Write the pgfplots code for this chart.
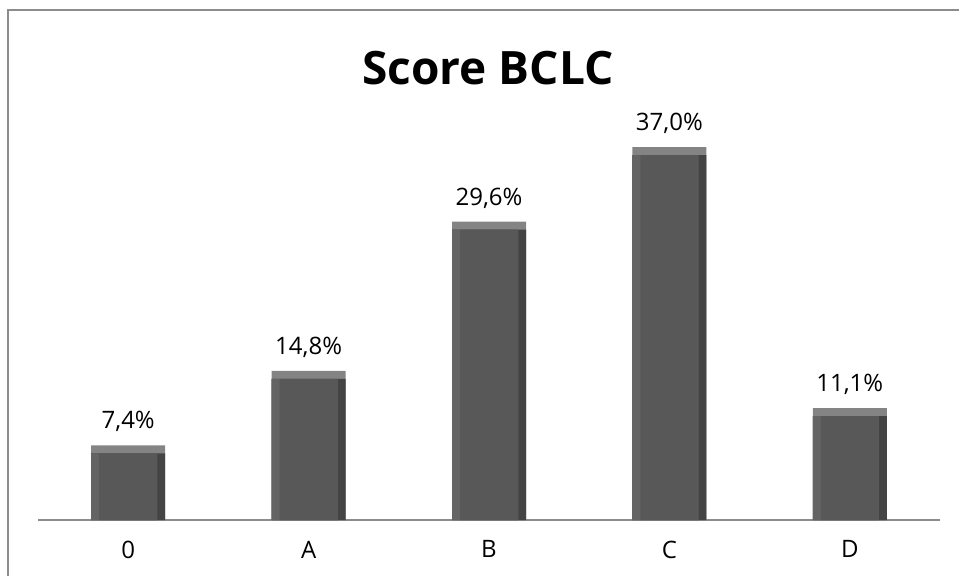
\documentclass[border=0pt]{standalone}
\usepackage{fontspec}
\setmainfont{Open Sans}
\usepackage{pgfplots}
\usepackage{pgfplotstable}
\pgfplotsset{compat=1.18}
\definecolor{barface}{RGB}{88,88,88}
\definecolor{bevtop}{RGB}{132,132,132}
\definecolor{bevleft}{RGB}{100,100,100}
\definecolor{bevright}{RGB}{68,68,68}
\definecolor{framecol}{RGB}{140,140,140}
\pgfplotstableread{
x v
0 7.4
1 14.8
2 29.6
3 37.0
4 11.1
}\bclc
\begin{document}
\begin{tikzpicture}[x=1pt,y=1pt]
\useasboundingbox (0,0) rectangle (959,576);
\draw[framecol, line width=1.6pt] (8,0) -- (8,566) -- (960,566);
\node[font=\bfseries\fontsize{46}{52}\selectfont] at (488,508) {Score BCLC};
\begin{axis}[
  at={(38pt,56pt)}, anchor=south west,
  scale only axis, width=902pt, height=403.2pt,
  xmin=-0.5, xmax=4.5, ymin=0, ymax=40,
  axis y line=none, axis x line*=bottom,
  x axis line style={framecol, line width=1.2pt, -},
  xtick=data, xticklabels={0,A,B,C,D},
  xtick style={draw=none},
  ytick=\empty,
  /pgf/number format/assume math mode=true,
  ticklabel style={font=\fontsize{24}{28}\selectfont},
  xticklabel style={yshift=-13pt},
  clip=false,
  ybar, bar shift=0pt,
]
\addplot[fill=bevtop, draw=none, bar width=74pt,
  nodes near coords={\pgfmathprintnumber[fixed,fixed zerofill,precision=1,use comma,assume math mode=true]{\pgfplotspointmeta}\%},
  every node near coord/.append style={font=\fontsize{24}{28}\selectfont, black, yshift=10pt}]
  table[x=x, y=v] {\bclc};
\addplot[fill=bevright, draw=none, bar width=74pt, y filter/.expression={y-0.79}]
  table[x=x, y=v] {\bclc};
\addplot[fill=bevleft, draw=none, bar width=66pt, bar shift=-4pt, y filter/.expression={y-0.79}]
  table[x=x, y=v] {\bclc};
\addplot[fill=barface, draw=none, bar width=58pt, y filter/.expression={y-0.79}]
  table[x=x, y=v] {\bclc};
\end{axis}
\end{tikzpicture}
\end{document}
